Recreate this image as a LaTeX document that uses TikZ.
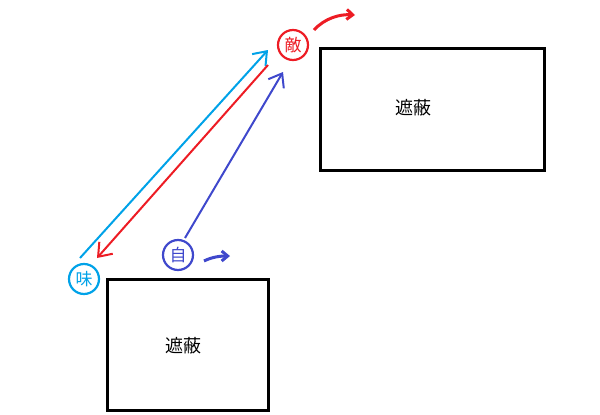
\documentclass[tikz,border=0pt]{standalone}
\usepackage{fontspec}
\newfontfamily\cjk{Noto Sans CJK JP}
\usetikzlibrary{arrows.meta}
\begin{document}
\begin{tikzpicture}[x=1pt,y=-1pt,
 box/.style={draw=black,line width=3pt},
 lbl/.style={font=\cjk\fontsize{18}{20}\selectfont},
 unit/.style={circle,draw=#1,line width=2.2pt,minimum size=30pt,inner sep=0pt,text=#1,font=\cjk\fontsize{17}{19}\selectfont},
 arr/.style={draw=#1,line width=2pt,-{Straight Barb[length=12pt,width=18pt]}}]
\definecolor{cy}{RGB}{0,162,232}
\definecolor{rd}{RGB}{237,28,36}
\definecolor{bl}{RGB}{63,72,204}
\useasboundingbox (0,0) rectangle (600,415);
\draw[box] (320,48) rectangle (544,170);
\node[lbl] (s1) at (413,108) {遮蔽};
\draw[box] (107,279) rectangle (268,410);
\node[lbl] (s2) at (183,346) {遮蔽};
\node[unit=rd] (teki) at (293,45) {敵};
\node[unit=cy] (mi) at (84,279) {味};
\node[unit=bl] (ji) at (178,255) {自};
\coordinate (c1) at (80,258); \coordinate (c2) at (268,50);
\draw[arr=cy] (c1) -- (c2);
\coordinate (r1) at (268,65); \coordinate (r2) at (97,258);
\draw[arr=rd] (r1) -- (r2);
\coordinate (b1) at (185,238); \coordinate (b2) at (283,72);
\draw[arr=bl] (b1) -- (b2);
\coordinate (rt) at (355,15);
\draw[draw=rd,line width=3pt,-{Straight Barb[length=6pt,width=10pt]}] (314,30) .. controls (325,18) and (340,14) .. (rt);
\coordinate (bt) at (230,256);
\draw[draw=bl,line width=3pt,-{Straight Barb[length=6pt,width=10pt]}] (204,261) .. controls (212,257) and (220,256) .. (bt);
\end{tikzpicture}
\end{document}
